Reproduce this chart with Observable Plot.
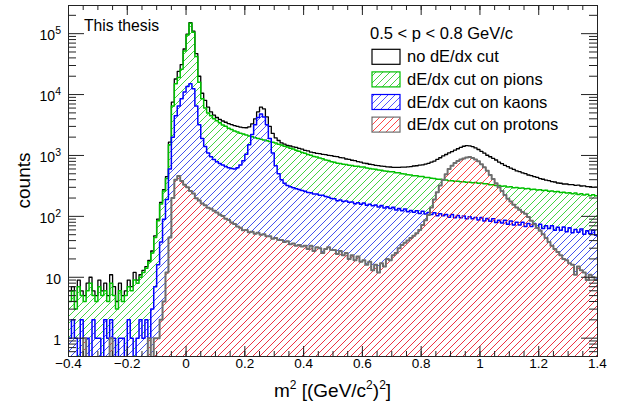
<!DOCTYPE html>
<html>
<head>
<meta charset="utf-8">
<script src="https://cdn.jsdelivr.net/npm/d3@7"></script>
<script src="https://cdn.jsdelivr.net/npm/@observablehq/plot@0.6"></script>
<style>
  html, body { margin: 0; padding: 0; background: #fff; }
  #chart svg { display: block; }
</style>
</head>
<body>
<div id="chart"></div>
<script>
// m² histograms, 0.01 (GeV/c²)² bins from -0.4 to 1.4 (180 bins each)
const m2Min = -0.4;
const m2Max = 1.4;
const binWidth = 0.01;

const noCut = [
  6, 7, 4, 9, 6, 5, 8, 10, 6, 5,
  9, 6, 8, 5, 11, 7, 4, 8, 5, 6,
  9, 7, 12, 9, 11, 13, 15, 19, 27, 48,
  90, 170, 275, 450, 1650, 7500, 18000, 24000, 31000, 56000,
  98000, 152000, 110000, 47000, 20000, 10500, 8000, 6200, 5200, 4600,
  4200, 3920, 3680, 3510, 3340, 3210, 3090, 3010, 2920, 2870,
  2850, 2950, 3300, 4000, 5200, 6200, 5800, 4300, 3000, 2300,
  1950, 1760, 1610, 1540, 1465, 1430, 1385, 1355, 1305, 1275,
  1215, 1185, 1135, 1115, 1085, 1075, 1045, 1035, 1005, 995,
  965, 955, 925, 910, 875, 865, 835, 820, 790, 780,
  748, 738, 718, 708, 688, 683, 668, 662, 648, 647,
  638, 637, 636, 642, 643, 652, 658, 672, 678, 692,
  698, 722, 743, 777, 808, 862, 918, 982, 1038, 1102,
  1158, 1222, 1288, 1362, 1418, 1452, 1438, 1402, 1328, 1252,
  1168, 1092, 1008, 952, 898, 842, 778, 732, 688, 657,
  618, 592, 558, 542, 518, 502, 478, 467, 448, 437,
  418, 407, 393, 387, 373, 367, 353, 350, 340, 340,
  331, 333, 323, 325, 315, 317, 307, 309, 300, 302
];

const pionCut = [
  4, 6, 3, 7, 5, 4, 6, 8, 5, 4,
  7, 5, 6, 4, 8, 5, 3, 6, 4, 5,
  7, 6, 9, 8, 10, 12, 14, 18, 25, 45,
  85, 160, 260, 420, 1500, 6500, 15000, 19000, 26000, 52000,
  95000, 148000, 105000, 42000, 16000, 8500, 6000, 5000, 4500, 4000,
  3700, 3450, 3160, 3010, 2800, 2680, 2510, 2420, 2320, 2250,
  2170, 2080, 2020, 1950, 1900, 1840, 1800, 1745, 1700, 1650,
  1600, 1535, 1490, 1415, 1375, 1315, 1275, 1215, 1175, 1115,
  1085, 1035, 1005, 965, 945, 905, 885, 845, 825, 785,
  772, 748, 738, 716, 708, 688, 683, 666, 662, 646,
  644, 622, 613, 597, 592, 577, 572, 556, 553, 541,
  538, 521, 518, 501, 498, 482, 480, 466, 465, 451,
  450, 436, 434, 421, 420, 406, 406, 395, 394, 385,
  386, 377, 378, 369, 370, 362, 364, 356, 359, 351,
  354, 344, 344, 332, 332, 321, 322, 312, 314, 304,
  306, 296, 299, 290, 292, 283, 286, 277, 280, 271,
  274, 266, 268, 259, 262, 254, 256, 247, 250, 242,
  244, 236, 241, 229, 235, 224, 230, 219, 226, 218
];

const kaonCut = [
  1, 2, 1, 0, 2, 1, 1, 0, 2, 1,
  1, 0, 2, 1, 2, 1, 0, 1, 1, 0,
  2, 1, 0, 1, 2, 1, 2, 1, 3, 7,
  16, 38, 90, 190, 600, 2000, 4500, 6500, 8500, 11000,
  13500, 15000, 12500, 6500, 3200, 1900, 1400, 1100, 950, 860,
  790, 740, 700, 660, 630, 610, 600, 630, 700, 820,
  1050, 1500, 2200, 3200, 4200, 4800, 4300, 3200, 1900, 1100,
  680, 500, 400, 350, 320, 305, 295, 285, 275, 265,
  258, 246, 245, 233, 234, 222, 223, 211, 206, 197,
  194, 181, 186, 175, 178, 170, 172, 161, 168, 158,
  166, 152, 158, 149, 153, 142, 151, 137, 144, 135,
  141, 127, 134, 124, 132, 119, 125, 117, 124, 111,
  121, 109, 116, 107, 115, 102, 110, 102, 107, 97,
  107, 95, 103, 95, 101, 91, 99, 91, 96, 87,
  96, 84, 92, 83, 91, 79, 86, 78, 86, 74,
  84, 72, 80, 72, 80, 68, 76, 68, 76, 65,
  74, 63, 70, 63, 70, 59, 66, 59, 67, 56,
  65, 54, 61, 55, 62, 51, 58, 52, 59, 49
];

const protonCut = [
  0, 0, 0, 0, 0, 1, 0, 0, 0, 0,
  0, 0, 0, 0, 1, 0, 0, 0, 0, 0,
  0, 0, 0, 0, 0, 0, 0, 1, 0, 1,
  1, 2, 4, 12, 45, 200, 400, 460, 380, 330,
  300, 262, 238, 198, 182, 163, 152, 138, 133, 124,
  116, 106, 101, 91, 87, 79, 75, 68, 65, 59,
  60, 55, 56, 52, 54, 50, 51, 47, 47, 43,
  44, 41, 41, 38, 39, 35, 36, 33, 34, 32,
  33, 29, 33, 27, 31, 30, 25, 29, 31, 28,
  28, 24, 27, 23, 25, 20, 23, 19, 22, 18,
  19, 16, 18, 13, 16, 12, 17, 15, 20, 19,
  23, 25, 30, 34, 37, 40, 44, 48, 53, 60,
  72, 86, 105, 140, 190, 250, 320, 400, 490, 600,
  680, 750, 810, 860, 890, 930, 940, 910, 860, 800,
  720, 640, 560, 480, 410, 350, 300, 260, 225, 195,
  175, 155, 140, 128, 118, 110, 98, 85, 74, 65,
  58, 51, 44, 38, 33, 29, 26, 23, 20, 19,
  17, 16, 11, 15, 13, 12, 9, 11, 10, 9
];

// axis ticks and labels
const xTickValues = [-0.4, -0.2, 0, 0.2, 0.4, 0.6, 0.8, 1, 1.2, 1.4];
const xTickLabels = ["\u22120.4", "\u22120.2", "0", "0.2", "0.4", "0.6", "0.8", "1", "1.2", "1.4"];
const yDecades = [1, 10, 100, 1000, 10000, 100000];
const yLabelBase = ["1", "10", "10", "10", "10", "10"];
const yLabelExp = ["", "", "2", "3", "4", "5"];

// legend
const legendHeader = "0.5 < p < 0.8 GeV/c";
const legendLabels = ["no dE/dx cut", "dE/dx cut on pions", "dE/dx cut on kaons", "dE/dx cut on protons"];
const stampText = "This thesis";

// styling
const lineColors = { none: "#000000", pion: "#00c000", kaon: "#0000ff", proton: "#6e6e6e" };
const hatchColors = { pion: "#2ecc2e", kaon: "#4444ff", proton: "#ff3030" };

const W = 618, H = 409;
const mTop = 5, mRight = 21, mBottom = 53, mLeft = 68;
const innerW = W - mLeft - mRight;
const innerH = H - mTop - mBottom;
const yMin = 0.5, yMax = 2.9e5;
const yFloor = 0.3; // empty bins fall below the frame

// histogram outline points (left bin edges + closing edge)
function steps(counts) {
  const pts = counts.map((c, i) => ({ x: m2Min + i * binWidth, y: Math.max(c, yFloor), base: yFloor }));
  pts.push({ x: m2Max, y: pts[pts.length - 1].y, base: yFloor });
  return pts;
}

const xMinor = d3.range(0, 37).map(i => m2Min + i * 0.05);
const yMinor = [];
for (let e = -1; e <= 5; e++) for (let k = 2; k <= 9; k++) {
  const v = k * Math.pow(10, e);
  if (v >= yMin && v <= yMax) yMinor.push(v);
}

const axisColor = "#222";

const hist = (counts, key) => {
  const pts = steps(counts);
  const marks = [];
  if (key !== "none") {
    marks.push(Plot.areaY(pts, { x: "x", y1: "base", y2: "y", curve: "step-after", fill: `url(#hatch-${key})`, clip: true }));
  }
  marks.push(Plot.lineY(pts, { x: "x", y: "y", curve: "step-after", stroke: lineColors[key],
    strokeWidth: key === "proton" ? 2 : (key === "none" ? 1.3 : 1.5), clip: true }));
  return marks;
};

const chart = Plot.plot({
  width: W, height: H,
  marginTop: mTop, marginRight: mRight, marginBottom: mBottom, marginLeft: mLeft,
  x: { domain: [m2Min, m2Max], axis: null },
  y: { type: "log", domain: [yMin, yMax], axis: null },
  style: { fontFamily: "'Liberation Sans', Arial, Helvetica, sans-serif", background: "#fff", color: "#000", overflow: "visible" },
  marks: [
    ...hist(noCut, "none"),
    ...hist(pionCut, "pion"),
    ...hist(kaonCut, "kaon"),
    ...hist(protonCut, "proton"),
    // inward ticks, bottom and top
    Plot.ruleX(xMinor, { insetTop: innerH - 5, stroke: axisColor }),
    Plot.ruleX(xMinor, { insetBottom: innerH - 5, stroke: axisColor }),
    Plot.ruleX(xTickValues, { insetTop: innerH - 10, stroke: axisColor }),
    Plot.ruleX(xTickValues, { insetBottom: innerH - 10, stroke: axisColor }),
    // inward ticks, left and right
    Plot.ruleY(yMinor, { insetRight: innerW - 8, stroke: axisColor }),
    Plot.ruleY(yMinor, { insetLeft: innerW - 8, stroke: axisColor }),
    Plot.ruleY(yDecades, { insetRight: innerW - 16, stroke: axisColor }),
    Plot.ruleY(yDecades, { insetLeft: innerW - 16, stroke: axisColor }),
    Plot.text(xTickValues, { x: d => d, text: (d, i) => xTickLabels[i], frameAnchor: "bottom", dy: 11, fontSize: 13.5, fill: "#000" }),
    Plot.frame({ stroke: axisColor, strokeWidth: 1 })
  ]
});

document.getElementById("chart").appendChild(chart);

const svg = d3.select(chart);

// hatch fills, shared user space so overlapping fills line up
const defs = svg.insert("defs", ":first-child");
for (const key of Object.keys(hatchColors)) {
  const s = 7;
  const p = defs.append("pattern")
    .attr("id", `hatch-${key}`)
    .attr("patternUnits", "userSpaceOnUse")
    .attr("width", s).attr("height", s);
  p.append("path")
    .attr("d", `M${-s / 2},${s / 2} L${s / 2},${-s / 2} M0,${s} L${s},0 M${s / 2},${s * 1.5} L${s * 1.5},${s / 2}`)
    .attr("stroke", hatchColors[key])
    .attr("stroke-width", 0.9)
    .attr("fill", "none");
}

const font = "'Liberation Sans', Arial, Helvetica, sans-serif";
const overlay = svg.append("g")
  .attr("font-family", font)
  .attr("fill", "#000")
  .attr("text-anchor", "start");

// y tick labels with superscript exponents
const yScale = chart.scale("y");
yDecades.forEach((v, i) => {
  const t = overlay.append("text")
    .attr("x", mLeft - 7)
    .attr("y", yScale.apply(v) + 7)
    .attr("text-anchor", "end")
    .attr("font-size", 14);
  t.append("tspan").text(yLabelBase[i]);
  if (yLabelExp[i]) t.append("tspan").attr("dy", -6).attr("font-size", 10.5).text(yLabelExp[i]);
});

// axis titles
const xt = overlay.append("text")
  .attr("x", mLeft + innerW / 2)
  .attr("y", 397)
  .attr("text-anchor", "middle")
  .attr("font-size", 19);
xt.append("tspan").text("m");
xt.append("tspan").attr("dy", -8).attr("font-size", 12).text("2");
xt.append("tspan").attr("dy", 8).text(" [(GeV/c");
xt.append("tspan").attr("dy", -8).attr("font-size", 12).text("2");
xt.append("tspan").attr("dy", 8).text(")");
xt.append("tspan").attr("dy", -8).attr("font-size", 12).text("2");
xt.append("tspan").attr("dy", 8).text("]");

overlay.append("text")
  .attr("transform", `translate(30,${mTop + innerH / 2}) rotate(-90)`)
  .attr("text-anchor", "middle")
  .attr("font-size", 19)
  .text("counts");

overlay.append("text")
  .attr("x", 84).attr("y", 31)
  .attr("text-anchor", "start")
  .attr("font-size", 15.7)
  .text(stampText);

// legend
overlay.append("text")
  .attr("x", 370).attr("y", 39)
  .attr("text-anchor", "start")
  .attr("font-size", 16.5)
  .text(legendHeader);

const legendKeys = ["none", "pion", "kaon", "proton"];
legendKeys.forEach((key, k) => {
  const cy = 56.8 + 22.6 * k;
  overlay.append("rect")
    .attr("x", 372).attr("y", cy - 7.5)
    .attr("width", 28).attr("height", 15)
    .attr("fill", key === "none" ? "#fff" : `url(#hatch-${key})`)
    .attr("stroke", lineColors[key])
    .attr("stroke-width", 1.2);
  overlay.append("text")
    .attr("x", 407).attr("y", cy + 5.5)
    .attr("text-anchor", "start")
    .attr("font-size", 16.5)
    .text(legendLabels[k]);
});
</script>
</body>
</html>
